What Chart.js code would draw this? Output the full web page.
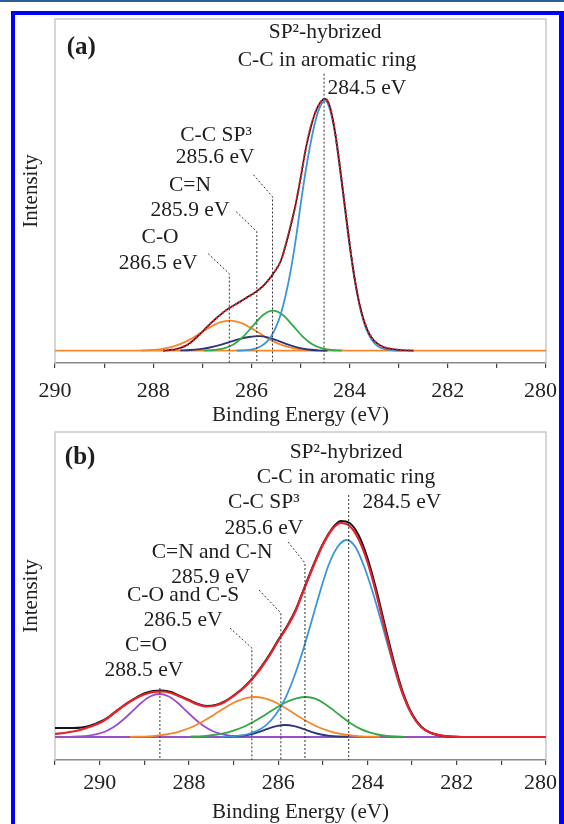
<!DOCTYPE html>
<html>
<head>
<meta charset="utf-8">
<script src="https://cdn.jsdelivr.net/npm/chart.js@4.4.0/dist/chart.umd.min.js"></script>
<style>
  html, body { margin: 0; padding: 0; background: #fff; }
  body { width: 564px; height: 824px; overflow: hidden; position: relative; }
  #topline { position: absolute; left: 0; top: 0; width: 564px; height: 2px; background: #2f5d97; }
  #frame { position: absolute; left: 11px; top: 11px; width: 544px; height: 900px;
           border-left: 4px solid #0000ff; border-top: 4px solid #0000ff; border-right: 5px solid #0000ff; z-index: 5; }
  canvas { position: absolute; }
  #chartA { left: 15px; top: 15px; }
  #chartB { left: 15px; top: 425px; }
</style>
</head>
<body>
<div id="topline"></div>
<div id="frame"></div>
<canvas id="chartA" width="564" height="420"></canvas>
<canvas id="chartB" width="564" height="405"></canvas>
<script>
// ---- panel (a) ----
// measured spectrum and fit envelope
const aTotE = [287.8, 287.7, 287.5, 287.3, 287.1, 286.9, 286.7, 286.5, 286.3, 286.1, 285.9, 285.8, 285.7, 285.6, 285.5, 285.4, 285.3, 285.2, 285.1, 285.0, 284.9, 284.8, 284.7, 284.6, 284.5, 284.4, 284.3, 284.2, 284.1, 284.0, 283.9, 283.8, 283.7, 283.6, 283.5, 283.4, 283.3, 283.1, 282.9, 282.7]
const aDataI = [0, 0.5, 2, 6, 14, 24, 33, 41, 47, 53, 59, 63, 68, 74, 81, 90, 106, 125, 146, 172, 200, 222, 238, 248, 252, 244, 220, 185, 146, 107, 73, 47, 29, 17, 10, 6, 3.5, 1.5, 0.5, 0]
const aFitI = [0, 0.5, 2, 6, 14, 24, 33, 41, 47, 53, 59, 63, 68, 74, 81, 90, 106, 125, 146, 172, 200, 222, 238, 248, 252, 244, 220, 185, 146, 107, 73, 47, 29, 17, 10, 6, 3.5, 1.5, 0.5, 0]
// SP2 C-C 284.5
const aBlueE = [286.3, 286.1, 285.9, 285.8, 285.7, 285.6, 285.5, 285.4, 285.3, 285.2, 285.1, 285.0, 284.9, 284.8, 284.7, 284.6, 284.5, 284.4, 284.3, 284.2, 284.1, 284.0, 283.9, 283.8, 283.7, 283.6, 283.5, 283.4, 283.3, 283.1, 282.9]
const aBlueI = [0.1, 0.6, 2.4, 4.6, 8.3, 14.3, 23.5, 37, 56, 80, 110, 145, 178, 206, 229, 244, 250, 241, 218, 183, 144, 105, 72, 46, 27, 15, 7.7, 3.7, 1.7, 0.3, 0]
// C-C SP3 285.6
const aGreenE = [286.96, 286.76, 286.56, 286.36, 286.16, 285.96, 285.76, 285.56, 285.36, 285.16, 284.96, 284.76, 284.56, 284.36, 284.16]
const aGreenI = [0.2, 0.7, 2.3, 6.5, 14.4, 25.4, 35.7, 40, 35.7, 25.4, 14.4, 6.5, 2.3, 0.7, 0.2]
// C=N 285.9
const aNavyE = [287.45, 287.25, 287.05, 286.85, 286.65, 286.45, 286.25, 286.05, 285.85, 285.65, 285.45, 285.25, 285.05, 284.85, 284.65, 284.45]
const aNavyI = [0.3, 0.7, 1.6, 3.2, 5.5, 8.5, 11.5, 13.7, 14.5, 13.1, 9.8, 6.0, 3.0, 1.2, 0.4, 0]
// C-O 286.5
const aOrangeE = [288.24, 288.04, 287.84, 287.64, 287.44, 287.24, 287.04, 286.84, 286.64, 286.44, 286.24, 286.04, 285.84, 285.64, 285.44, 285.24, 285.04, 284.84, 284.64]
const aOrangeI = [0.2, 0.7, 1.6, 3.5, 6.8, 11.6, 17.6, 23.6, 28.3, 30, 28.3, 23.6, 17.6, 11.6, 6.8, 3.5, 1.6, 0.7, 0.2]

// ---- panel (b) ----
const bTotE = [291.0, 290.8, 290.6, 290.4, 290.2, 290.0, 289.8, 289.6, 289.4, 289.2, 289.0, 288.8, 288.6, 288.4, 288.2, 288.0, 287.8, 287.6, 287.4, 287.2, 287.0, 286.8, 286.6, 286.4, 286.2, 286.0, 285.8, 285.6, 285.4, 285.2, 285.0, 284.8, 284.6, 284.4, 284.2, 284.0, 283.8, 283.6, 283.4, 283.2, 283.0, 282.8, 282.6, 282.4, 282.2, 282.0, 281.8, 281.0, 280.0]
const bDataI = [9, 9, 9, 9.5, 11.5, 15, 20, 27, 33.5, 39, 43.5, 46, 46.5, 45, 41, 37, 33, 31, 32, 35.5, 41.5, 48.5, 57.5, 69, 82, 97, 111, 128, 151, 173, 193, 208, 216, 214, 202, 179, 147, 110, 74, 44, 23, 10.5, 4.5, 1.8, 0.6, 0.2, 0, 0, 0]
const bFitI = [3, 4, 5.5, 7.5, 10.5, 14, 19.5, 26.5, 33, 38.5, 42.5, 45, 45.5, 44, 40.5, 36.5, 32.5, 30.5, 31.5, 35, 41, 48, 57, 68, 81, 96, 110, 127, 150, 172, 192, 207, 214, 211, 198, 175, 143, 106, 71, 42, 22, 10, 4.5, 1.8, 0.7, 0.2, 0, 0, 0]
// SP2 C-C 284.5
const bBlueE = [287.27, 287.07, 286.87, 286.67, 286.47, 286.27, 286.07, 285.87, 285.67, 285.47, 285.27, 285.07, 284.87, 284.67, 284.47, 284.27, 284.07, 283.87, 283.67, 283.47, 283.27, 283.07, 282.87, 282.67, 282.47, 282.27, 282.07]
const bBlueI = [0.2, 0.6, 1.3, 3, 6.2, 11.9, 21.5, 36, 57, 83, 113, 144, 172, 190, 197, 190, 170, 143, 112, 80, 50, 28, 14, 6, 2.5, 1, 0.3]
// C-C SP3 285.6
const bGreenE = [287.97, 287.77, 287.57, 287.37, 287.17, 286.97, 286.77, 286.57, 286.37, 286.17, 285.97, 285.77, 285.57, 285.37, 285.17, 284.97, 284.77, 284.57, 284.37, 284.17, 283.97, 283.77, 283.57, 283.37, 283.17]
const bGreenI = [0.4, 0.7, 1.4, 2.5, 4.2, 6.8, 10.3, 14.8, 20, 25.7, 31.2, 35.8, 38.9, 40, 38.3, 33.6, 27.1, 20, 13.6, 8.4, 4.8, 2.5, 1.2, 0.5, 0.2]
// C=N and C-N 285.9
const bNavyE = [287.24, 287.04, 286.84, 286.64, 286.44, 286.24, 286.04, 285.84, 285.64, 285.44, 285.24, 285.04, 284.84, 284.64, 284.44]
const bNavyI = [0.2, 0.5, 1.1, 2.5, 4.9, 8.1, 10.9, 12, 10.9, 8.1, 4.9, 2.5, 1.1, 0.5, 0.2]
// C-O and C-S 286.5
const bOrangeE = [289.32, 289.12, 288.92, 288.72, 288.52, 288.32, 288.12, 287.92, 287.72, 287.52, 287.32, 287.12, 286.92, 286.72, 286.52, 286.32, 286.12, 285.92, 285.72, 285.52, 285.32, 285.12, 284.92, 284.72, 284.52, 284.32, 284.12, 283.92, 283.72]
const bOrangeI = [0.2, 0.4, 0.7, 1.4, 2.5, 4.2, 6.8, 10.3, 14.8, 20, 25.7, 31.2, 35.8, 38.9, 40, 38.9, 35.8, 31.2, 25.7, 20, 14.8, 10.3, 6.8, 4.2, 2.5, 1.4, 0.7, 0.4, 0.2]
// C=O 288.5
const bPurpleE = [290.66, 290.46, 290.26, 290.06, 289.86, 289.66, 289.46, 289.26, 289.06, 288.86, 288.66, 288.46, 288.26, 288.06, 287.86, 287.66, 287.46, 287.26, 287.06, 286.86, 286.66]
const bPurpleI = [0.2, 0.5, 1.2, 2.8, 5.8, 10.7, 17.7, 26.1, 34.5, 40.7, 43, 40.7, 34.5, 26.1, 17.7, 10.7, 5.8, 2.8, 1.2, 0.5, 0.2]

const FONT = "'Liberation Serif', 'Times New Roman', serif"
Chart.defaults.font.family = FONT
Chart.defaults.color = "#222"

const BLUE = "#3b95d8", GREEN = "#33a844", ORANGE = "#f5882c", NAVY = "#2c3578", PURPLE = "#9b4ec9", RED = "#e8212b", BLACK = "#151515"

const pts = (es, is) => es.map((e, k) => ({x: e, y: is[k]}))

function line(label, es, is, color, width, dash) {
  return {
    label: label,
    data: pts(es, is),
    borderColor: color,
    borderWidth: width,
    borderDash: dash || [],
    pointRadius: 0,
    fill: false,
    cubicInterpolationMode: "monotone",
  }
}

// light grey box round the plot area
const frameBox = {
  id: "frameBox",
  beforeDatasetsDraw(chart) {
    const a = chart.chartArea, ctx = chart.ctx
    ctx.save()
    ctx.strokeStyle = "#c9c9c9"
    ctx.lineWidth = 1.5
    ctx.beginPath()
    ctx.moveTo(a.left, a.bottom)
    ctx.lineTo(a.left, a.top)
    ctx.lineTo(a.right, a.top)
    ctx.lineTo(a.right, a.bottom)
    ctx.stroke()
    ctx.restore()
  },
}

// dotted peak markers and the peak names
const annotate = {
  id: "annotate",
  afterDatasetsDraw(chart, args, opts) {
    const ctx = chart.ctx, a = chart.chartArea, x = chart.scales.x, y = chart.scales.y
    ctx.save()
    ctx.strokeStyle = "#333"
    ctx.lineWidth = 1
    ctx.setLineDash([2, 2])
    opts.marks.forEach((m) => {
      const px = x.getPixelForValue(m.e), top = y.getPixelForValue(m.top)
      ctx.beginPath()
      if (m.lead) {
        ctx.moveTo(x.getPixelForValue(m.lead[0]), y.getPixelForValue(m.lead[1]))
        ctx.lineTo(px, top)
      } else {
        ctx.moveTo(px, top)
      }
      ctx.lineTo(px, a.bottom)
      ctx.stroke()
    })
    ctx.setLineDash([])
    ctx.fillStyle = "#1e1e1e"
    ctx.textBaseline = "middle"
    opts.labels.forEach((l) => {
      ctx.font = l.bold ? "bold 25px " + FONT : "21.5px " + FONT
      ctx.textAlign = l.align || "center"
      ctx.fillText(l.text, x.getPixelForValue(l.e), y.getPixelForValue(l.i))
    })
    ctx.restore()
  },
}

function makeOptions(xMin, xMax, yMin, yMax, pad, tickPad, marks, labels) {
  return {
    responsive: false,
    animation: false,
    events: [],
    layout: {padding: pad},
    plugins: {
      legend: {display: false},
      tooltip: {enabled: false},
      annotate: {marks: marks, labels: labels},
    },
    scales: {
      x: {
        type: "linear",
        reverse: true,
        min: xMin,
        max: xMax,
        afterFit: (s) => { s.height = 69 },
        ticks: {
          stepSize: 1,
          autoSkip: false,
          maxRotation: 0,
          padding: tickPad,
          color: "#222",
          font: {size: 22},
          // the last label sits against the frame, nudge it left a little
          callback: (v) => (v % 2 !== 0 ? "" : v === 280 ? "280\u2002" : String(v)),
        },
        grid: {drawOnChartArea: false, drawTicks: true, tickLength: 5, color: "#444", lineWidth: 1.2},
        border: {color: "#8a8a8a", width: 1.5},
        title: {display: true, text: "Binding Energy (eV)", font: {size: 21}, color: "#222", padding: {top: 2, bottom: 4}},
      },
      y: {
        min: yMin,
        max: yMax,
        afterFit: (s) => { s.width = 40 },
        ticks: {display: false},
        grid: {display: false, drawTicks: false},
        border: {display: false},
        title: {display: true, text: "Intensity", font: {size: 21}, color: "#222"},
      },
    },
  }
}

const chartA = new Chart(document.getElementById("chartA"), {
  type: "line",
  data: {
    datasets: [
      line("fit", aTotE, aFitI, RED, 2.2, [2, 2]),
      line("data", aTotE, aDataI, BLACK, 1.6),
      line("SP2 C-C", aBlueE, aBlueI, BLUE, 1.8),
      line("C-C SP3", aGreenE, aGreenI, GREEN, 1.8),
      line("C=N", aNavyE, aNavyI, NAVY, 1.8),
      line("C-O", aOrangeE, aOrangeI, ORANGE, 1.8),
      line("baseline", [290, 280], [0, 0], ORANGE, 1.8),
    ],
  },
  options: makeOptions(280, 290, -12.3, 331.7, {left: 0, right: 33, top: 4, bottom: 3}, 10,
    [
      {e: 286.45, top: 77, lead: [286.88, 97]},
      {e: 285.89, top: 119, lead: [286.31, 139]},
      {e: 285.57, top: 154, lead: [285.96, 176]},
      {e: 284.52, top: 277},
    ],
    [
      {text: "(a)", e: 289.76, i: 302.7, align: "left", bold: true},
      {text: "SP²-hybrized", e: 284.5, i: 318.7},
      {text: "C-C in aromatic ring", e: 284.46, i: 290.7},
      {text: "284.5 eV", e: 284.45, i: 262.7, align: "left"},
      {text: "C-C SP³", e: 286.72, i: 215.7},
      {text: "285.6 eV", e: 286.74, i: 193.7},
      {text: "C=N", e: 287.25, i: 165.7},
      {text: "285.9 eV", e: 287.25, i: 140.7},
      {text: "C-O", e: 287.86, i: 113.7},
      {text: "286.5 eV", e: 287.9, i: 87.7},
    ]),
  plugins: [frameBox, annotate],
})

const chartB = new Chart(document.getElementById("chartB"), {
  type: "line",
  data: {
    datasets: [
      line("fit", bTotE, bFitI, RED, 2.2),
      line("data", bTotE, bDataI, BLACK, 2),
      line("SP2 C-C", bBlueE, bBlueI, BLUE, 1.8),
      line("C-C SP3", bGreenE, bGreenI, GREEN, 1.8),
      line("C=N and C-N", bNavyE, bNavyI, NAVY, 1.8),
      line("C-O and C-S", bOrangeE, bOrangeI, ORANGE, 1.8),
      line("C=O", bPurpleE, bPurpleI, PURPLE, 1.8),
      line("baseline", [291, 280], [0, 0], PURPLE, 1.8),
    ],
  },
  options: makeOptions(280, 291, -23, 305, {left: 0, right: 33, top: 7, bottom: 1}, 5,
    [
      {e: 288.65, top: 49},
      {e: 286.59, top: 89, lead: [287.08, 109]},
      {e: 285.94, top: 124, lead: [286.43, 147]},
      {e: 285.4, top: 174, lead: [285.78, 195]},
      {e: 284.42, top: 242},
    ],
    [
      {text: "(b)", e: 290.78, i: 279, align: "left", bold: true},
      {text: "SP²-hybrized", e: 284.48, i: 285},
      {text: "C-C in aromatic ring", e: 284.48, i: 260},
      {text: "284.5 eV", e: 283.23, i: 235},
      {text: "C-C SP³", e: 286.32, i: 235},
      {text: "285.6 eV", e: 286.32, i: 209},
      {text: "C=N and C-N", e: 287.48, i: 185},
      {text: "285.9 eV", e: 287.51, i: 160},
      {text: "C-O and C-S", e: 288.13, i: 142},
      {text: "286.5 eV", e: 288.13, i: 117},
      {text: "C=O", e: 288.96, i: 92},
      {text: "288.5 eV", e: 289.01, i: 67},
    ]),
  plugins: [frameBox, annotate],
})
</script>
</body>
</html>
